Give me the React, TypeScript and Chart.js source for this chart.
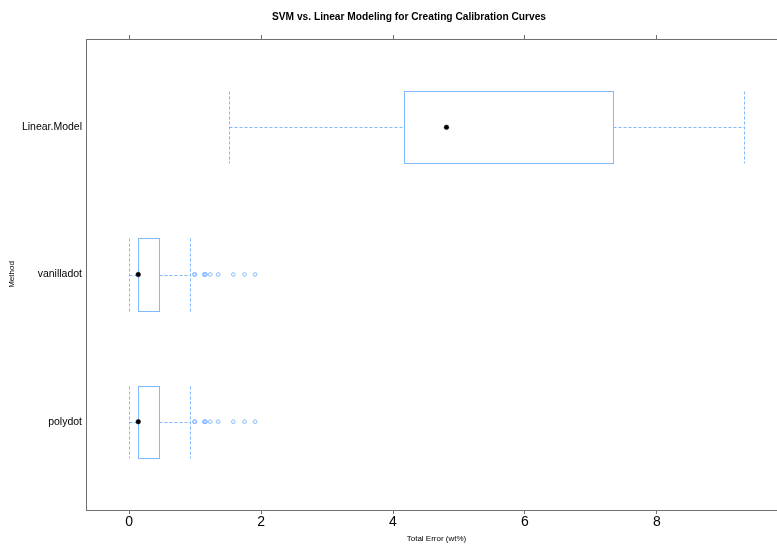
import React, { useEffect, useRef } from "react";
import { Chart, registerables } from "chart.js";

Chart.register(...registerables);

// ---- data ----
const methods = ["polydot", "vanilladot", "Linear.Model"];
const whiskerLow = [0.0, 0.0, 1.52];
const q1 = [0.14, 0.14, 4.17];
const medians = [0.14, 0.14, 4.81];
const q3 = [0.46, 0.46, 7.34];
const whiskerHigh = [0.93, 0.93, 9.32];
const polydotOutliers = [0.99, 1.0, 1.14, 1.15, 1.16, 1.23, 1.35, 1.58, 1.75, 1.91];
const vanilladotOutliers = [0.99, 1.0, 1.14, 1.15, 1.16, 1.23, 1.35, 1.58, 1.75, 1.91];
const linearOutliers: number[] = [];
const xTicks = [0, 2, 4, 6, 8];
const yTicks = [1, 2, 3];

const titleText = "SVM vs. Linear Modeling for Creating Calibration Curves";
const xTitle = "Total Error (wt%)";
const yTitle = "Method";

// ---- styles ----
const BLUE = "#80b8ff";
const FRAME = "#707070";
const FONT = "'Liberation Sans', Arial, Helvetica, sans-serif";
const BOX_HALF = 0.245;
const X_MIN = -0.652;
const X_MAX = 9.97;

const outlierSets = [polydotOutliers, vanilladotOutliers, linearOutliers];

const titlePlugin = {
  id: "pageTitle",
  afterDraw(chart: any) {
    const { ctx } = chart;
    ctx.save();
    ctx.fillStyle = "#000";
    ctx.font = `bold 10.2px ${FONT}`;
    ctx.textAlign = "center";
    ctx.textBaseline = "middle";
    ctx.fillText(titleText, 409, 17);
    ctx.restore();
  },
};

const boxPlugin = {
  id: "bwBoxes",
  beforeDatasetsDraw(chart: any) {
    const { ctx, scales, chartArea } = chart;
    const x = scales.x;
    const y = scales.y;
    ctx.save();
    ctx.beginPath();
    ctx.rect(chartArea.left, chartArea.top, chartArea.width, chartArea.height);
    ctx.clip();
    ctx.strokeStyle = BLUE;
    ctx.lineWidth = 1;
    const px = (v: number) => Math.round(x.getPixelForValue(v)) + 0.5;
    const py = (v: number) => Math.round(y.getPixelForValue(v)) + 0.5;
    methods.forEach((_m, i) => {
      const c = i + 1;
      const yc = py(c);
      const yt = py(c + BOX_HALF);
      const yb = py(c - BOX_HALF);
      const xl = px(q1[i]);
      const xr = px(q3[i]);
      const wl = px(whiskerLow[i]);
      const wh = px(whiskerHigh[i]);
      // box
      ctx.setLineDash([]);
      ctx.strokeRect(xl, yt, xr - xl, yb - yt);
      // whiskers
      ctx.setLineDash([3, 2]);
      ctx.beginPath();
      ctx.moveTo(wl, yc);
      ctx.lineTo(xl, yc);
      ctx.moveTo(xr, yc);
      ctx.lineTo(wh, yc);
      ctx.moveTo(wl, yt);
      ctx.lineTo(wl, yb);
      ctx.moveTo(wh, yt);
      ctx.lineTo(wh, yb);
      ctx.stroke();
    });
    ctx.restore();
  },
};

export default function App() {
  const ref = useRef<HTMLCanvasElement | null>(null);

  useEffect(() => {
    if (!ref.current) return;
    const medianData = medians.map((m, i) => ({ x: m, y: i + 1 }));
    const outlierData: { x: number; y: number }[] = [];
    outlierSets.forEach((set, i) => set.forEach((v) => outlierData.push({ x: v, y: i + 1 })));

    const chart = new Chart(ref.current, {
      type: "scatter",
      data: {
        datasets: [
          {
            label: "outliers",
            data: outlierData,
            pointStyle: "circle",
            pointRadius: 1.8,
            pointBackgroundColor: "rgba(0,0,0,0)",
            pointBorderColor: BLUE,
            pointBorderWidth: 1,
          },
          {
            label: "median",
            data: medianData,
            pointStyle: "circle",
            pointRadius: 2.3,
            pointBackgroundColor: "#000",
            pointBorderColor: "#000",
            pointBorderWidth: 0.5,
          },
        ],
      },
      options: {
        responsive: false,
        maintainAspectRatio: false,
        animation: false,
        layout: { padding: { left: 0, right: 31, top: 23, bottom: 0 } },
        plugins: {
          legend: { display: false },
          tooltip: { enabled: false },
          title: { display: false },
        },
        scales: {
          x: {
            type: "linear",
            position: "bottom",
            min: X_MIN,
            max: X_MAX,
            afterBuildTicks: (s: any) => {
              s.ticks = xTicks.map((v) => ({ value: v }));
            },
            afterFit: (s: any) => {
              s.height = 34;
            },
            ticks: {
              color: "#000",
              font: { family: FONT, size: 14 },
              padding: 0,
              maxRotation: 0,
              autoSkip: false,
            },
            grid: {
              display: true,
              drawOnChartArea: false,
              drawTicks: true,
              tickLength: 4,
              color: FRAME,
            },
            border: { display: true, color: FRAME, width: 1 },
            title: {
              display: true,
              text: xTitle,
              color: "#000",
              font: { family: FONT, size: 8 },
              padding: { top: 0, bottom: 0 },
            },
          },
          x2: {
            type: "linear",
            position: "top",
            min: X_MIN,
            max: X_MAX,
            afterBuildTicks: (s: any) => {
              s.ticks = xTicks.map((v) => ({ value: v }));
            },
            afterFit: (s: any) => {
              s.height = 16;
            },
            ticks: { display: false },
            grid: {
              display: true,
              drawOnChartArea: false,
              drawTicks: true,
              tickLength: 4,
              color: FRAME,
            },
            border: { display: true, color: FRAME, width: 1 },
          },
          y: {
            type: "linear",
            position: "left",
            min: 0.4,
            max: 3.6,
            afterBuildTicks: (s: any) => {
              s.ticks = yTicks.map((v) => ({ value: v }));
            },
            afterFit: (s: any) => {
              s.width = 86;
            },
            ticks: {
              color: "#000",
              font: { family: FONT, size: 10.5 },
              padding: 4,
              callback: (v: any) => methods[Math.round(Number(v)) - 1] ?? "",
            },
            grid: { display: false, drawTicks: false },
            border: { display: true, color: FRAME, width: 1 },
            title: {
              display: true,
              text: yTitle,
              color: "#000",
              font: { family: FONT, size: 8 },
              padding: { top: 7, bottom: 0 },
            },
          },
        },
      },
      plugins: [boxPlugin, titlePlugin],
    } as any);
    return () => chart.destroy();
  }, []);

  return (
    <div
      style={{
        position: "fixed",
        left: 0,
        top: 0,
        width: 777,
        height: 544,
        overflow: "hidden",
        background: "#fff",
      }}
    >
      <canvas ref={ref} width={818} height={544} style={{ display: "block" }} />
    </div>
  );
}
